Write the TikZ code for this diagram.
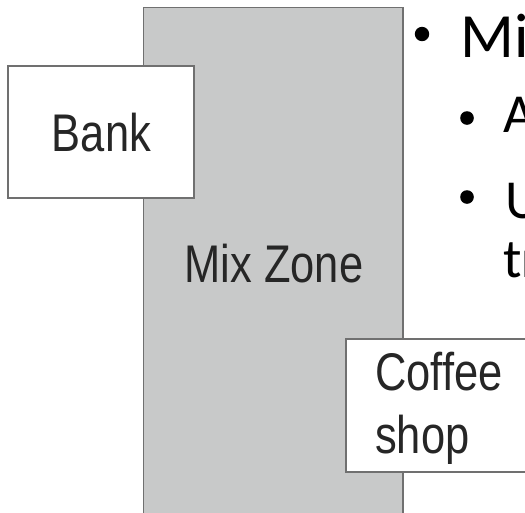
\documentclass[tikz,border=0pt]{standalone}
\usepackage{fontspec}
\setmainfont{Liberation Sans}
\newfontfamily\narrowfont[FakeStretch=0.82]{Liberation Sans}
\newfontfamily\slidefont{Carlito}
\definecolor{zonefill}{RGB}{200,201,201}
\definecolor{edgegray}{RGB}{112,112,112}
\definecolor{labelgray}{RGB}{38,38,38}
\begin{document}
\begin{tikzpicture}[x=1pt,y=-1pt,
  area/.style={draw=edgegray,line width=1.1pt},
  place/.style={inner sep=0pt,text=labelgray,font=\narrowfont\fontsize{53}{63}\selectfont},
  bullettext/.style={inner sep=0pt,anchor=base west,text=black},
  dot/.style={fill=black,draw=none}]
  \useasboundingbox (0,0) rectangle (525,512);
  \clip (0,0) rectangle (525,512);

  % the mix zone strip running off the bottom
  \fill[zonefill] (143.5,7.5) rectangle (403,530);
  \draw[area] (143.5,530) -- (143.5,7.5) -- (403,7.5) -- (403,530);
  \node[place,anchor=base] (zone) at (274,282) {Mix Zone};

  % bank on the left edge of the zone
  \draw[area,fill=white] (8,66) rectangle (194,198);
  \node[place,anchor=base] (bank) at (101.5,151) {Bank};

  % coffee shop on the right edge of the zone
  \draw[area,fill=white] (346,339) rectangle (540,472);
  \node[place,anchor=base west] (coffee) at (375,390) {Coffee};
  \node[place,anchor=base west] (shop) at (375,453) {shop};

  % bullet list beside the zone
  \fill[dot] (422,34) circle (7.2);
  \node[bullettext,font=\slidefont\fontsize{63}{76}\selectfont] (mix) at (460,57) {Mix};
  \fill[dot] (467,118) circle (6.8);
  \node[bullettext,font=\slidefont\fontsize{55}{66}\selectfont] (ptA) at (503,132) {A};
  \fill[dot] (467,197) circle (6.8);
  \node[bullettext,font=\slidefont\fontsize{55}{66}\selectfont] (ptU) at (505,218) {U};
  \node[bullettext,font=\slidefont\fontsize{55}{66}\selectfont] (ptTr) at (503,277) {tr};
\end{tikzpicture}
\end{document}
